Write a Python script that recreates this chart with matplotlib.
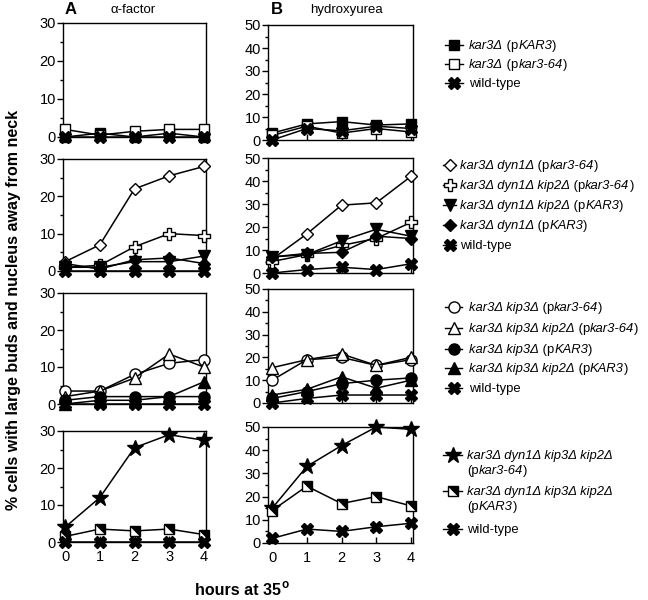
import matplotlib
matplotlib.use('Agg')
import matplotlib.pyplot as plt
from matplotlib.path import Path
from matplotlib.ticker import MultipleLocator

plt.rcParams['font.family'] = ['Liberation Sans', 'DejaVu Sans']

W, H = 648, 600
fig = plt.figure(figsize=(6.48, 6.0), dpi=100)

hours = [0, 1, 2, 3, 4]

# ---------------- data ----------------
# row 1
r1_pKAR3_alpha = [0, 1, 0, 1, 0]
r1_pkar364_alpha = [2, 0.5, 1.5, 2, 2]
r1_wt_alpha = [0, 0, 0, 0, 0]
r1_pKAR3_hu = [3, 7, 8, 6.5, 7]
r1_pkar364_hu = [2, 6, 3, 5, 3.5]
r1_wt_hu = [0, 5, 4, 6, 5]
# row 2
r2_dyn_pkar364_alpha = [2.5, 7, 22, 25.5, 28]
r2_dynkip2_pkar364_alpha = [1, 1.5, 6.5, 10, 9.5]
r2_dynkip2_pKAR3_alpha = [1, 1, 2.5, 2.5, 4]
r2_dyn_pKAR3_alpha = [2, 0.5, 3, 3.5, 2]
r2_wt_alpha = [0, 0, 0, 0, 0]
r2_dyn_pkar364_hu = [6, 17, 29.5, 30.5, 42]
r2_dynkip2_pkar364_hu = [5, 8, 12, 15, 22]
r2_dynkip2_pKAR3_hu = [7, 8, 14, 19, 16]
r2_dyn_pKAR3_hu = [7, 8.5, 9, 16, 15]
r2_wt_hu = [0, 1.5, 2.5, 1.5, 4]
# row 3
r3_kip3_pkar364_alpha = [3.5, 3.5, 8, 11, 12]
r3_kip3kip2_pkar364_alpha = [2, 3.5, 7, 13.5, 10]
r3_kip3_pKAR3_alpha = [1, 2, 2, 2, 2]
r3_kip3kip2_pKAR3_alpha = [0, 1, 1, 2, 6]
r3_wt_alpha = [0, 0, 0, 0, 0]
r3_kip3_pkar364_hu = [10, 19, 20, 16.5, 19]
r3_kip3kip2_pkar364_hu = [15.5, 19, 21.5, 16.5, 20]
r3_kip3_pKAR3_hu = [2, 5, 8.5, 10, 11]
r3_kip3kip2_pKAR3_hu = [3.5, 6, 11.5, 6.5, 10]
r3_wt_hu = [0, 2, 3.5, 3.5, 3.5]
# row 4
r4_quad_pkar364_alpha = [4, 12, 25.5, 29, 27.5]
r4_quad_pKAR3_alpha = [1.5, 3.5, 3, 3.5, 2]
r4_wt_alpha = [0, 0, 0, 0, 0]
r4_quad_pkar364_hu = [15, 33, 42, 50, 49]
r4_quad_pKAR3_hu = [14, 24.5, 17, 20, 16]
r4_wt_hu = [2, 6, 5, 7, 8.5]

I, N = 'italic', 'normal'
lab_wt = [('wild-type', N)]

rows = [
    [  # (alpha, hu, style, label segments)
        (r1_pKAR3_alpha, r1_pKAR3_hu, 'sq_f', [('kar3Δ', I), (' (p', N), ('KAR3', I), (')', N)]),
        (r1_pkar364_alpha, r1_pkar364_hu, 'sq_o', [('kar3Δ', I), (' (p', N), ('kar3-64', I), (')', N)]),
        (r1_wt_alpha, r1_wt_hu, 'wt', lab_wt),
    ],
    [
        (r2_dyn_pkar364_alpha, r2_dyn_pkar364_hu, 'dia_o', [('kar3Δ dyn1Δ', I), (' (p', N), ('kar3-64', I), (')', N)]),
        (r2_dynkip2_pkar364_alpha, r2_dynkip2_pkar364_hu, 'plus_o', [('kar3Δ dyn1Δ kip2Δ', I), (' (p', N), ('kar3-64', I), (')', N)]),
        (r2_dynkip2_pKAR3_alpha, r2_dynkip2_pKAR3_hu, 'tri_v', [('kar3Δ dyn1Δ kip2Δ', I), (' (p', N), ('KAR3', I), (')', N)]),
        (r2_dyn_pKAR3_alpha, r2_dyn_pKAR3_hu, 'dia_f', [('kar3Δ dyn1Δ', I), (' (p', N), ('KAR3', I), (')', N)]),
        (r2_wt_alpha, r2_wt_hu, 'wt', lab_wt),
    ],
    [
        (r3_kip3_pkar364_alpha, r3_kip3_pkar364_hu, 'circ_o', [('kar3Δ kip3Δ', I), (' (p', N), ('kar3-64', I), (')', N)]),
        (r3_kip3kip2_pkar364_alpha, r3_kip3kip2_pkar364_hu, 'tri_o', [('kar3Δ kip3Δ kip2Δ', I), (' (p', N), ('kar3-64', I), (')', N)]),
        (r3_kip3_pKAR3_alpha, r3_kip3_pKAR3_hu, 'circ_f', [('kar3Δ kip3Δ', I), (' (p', N), ('KAR3', I), (')', N)]),
        (r3_kip3kip2_pKAR3_alpha, r3_kip3kip2_pKAR3_hu, 'tri_f', [('kar3Δ kip3Δ kip2Δ', I), (' (p', N), ('KAR3', I), (')', N)]),
        (r3_wt_alpha, r3_wt_hu, 'wt', lab_wt),
    ],
    [
        (r4_quad_pkar364_alpha, r4_quad_pkar364_hu, 'star', [('kar3Δ dyn1Δ kip3Δ kip2Δ', I), ('\n', N), ('(p', N), ('kar3-64', I), (')', N)]),
        (r4_quad_pKAR3_alpha, r4_quad_pKAR3_hu, 'half', [('kar3Δ dyn1Δ kip3Δ kip2Δ', I), ('\n', N), ('(p', N), ('KAR3', I), (')', N)]),
        (r4_wt_alpha, r4_wt_hu, 'wt', lab_wt),
    ],
]

STY = {
    'sq_f': dict(marker='s', mfc='k', ms=7),
    'sq_o': dict(marker='s', mfc='w', ms=7),
    'wt': dict(marker='X', mfc='k', ms=9),
    'dia_o': dict(marker='D', mfc='w', ms=6),
    'plus_o': dict(marker='P', mfc='w', ms=9),
    'tri_v': dict(marker='v', mfc='k', ms=8),
    'dia_f': dict(marker='D', mfc='k', ms=6),
    'circ_o': dict(marker='o', mfc='w', ms=8),
    'tri_o': dict(marker='^', mfc='w', ms=8),
    'circ_f': dict(marker='o', mfc='k', ms=8),
    'tri_f': dict(marker='^', mfc='k', ms=8),
    'star': dict(marker='*', mfc='k', ms=12),
    'half': dict(marker='s', mfc='w', ms=7.5),
}
TRI_UR = Path([(-1, 1), (1, 1), (1, -1), (-1, 1)], [Path.MOVETO, Path.LINETO, Path.LINETO, Path.CLOSEPOLY])


def draw_series(ax, x, y, key, clip=False, lw=1.1):
    st = STY[key]
    ax.plot(x, y, color='k', lw=lw, marker=st['marker'], ms=st['ms'], mfc=st['mfc'],
            mec='k', mew=1.0, clip_on=clip, zorder=3)
    if key == 'half':
        ax.plot(x, y, ls='none', marker=TRI_UR, ms=st['ms'], mfc='k', mec='k', mew=0.6,
                clip_on=clip, zorder=4)


# axes pixel geometry
colA = (63, 206)
colB = (268, 413)
rowsA = [(23, 137), (159, 271), (293, 404), (431, 542)]
rowsB = [(25, 140), (158, 273), (289, 403), (427, 543)]


def px_axes(xr, yr):
    x0, x1 = xr
    t, b = yr
    return fig.add_axes([x0 / W, 1 - b / H, (x1 - x0) / W, (b - t) / H])


for ri, series in enumerate(rows):
    for ci, (xr, yr, ymax, xl) in enumerate([(colA, rowsA[ri], 30, (-0.06, 4.06)),
                                              (colB, rowsB[ri], 50, (-0.12, 4.06))]):
        ax = px_axes(xr, yr)
        for s in series:
            draw_series(ax, hours, s[ci], s[2])
        ax.set_xlim(*xl)
        ax.set_ylim(0, ymax)
        ax.yaxis.set_major_locator(MultipleLocator(10))
        ax.yaxis.set_minor_locator(MultipleLocator(5))
        ax.set_xticks(hours)
        ax.tick_params(axis='y', which='major', direction='out', length=4, width=1,
                       labelsize=10.5, pad=1)
        ax.tick_params(axis='y', which='minor', direction='out', length=2.5, width=1)
        ax.tick_params(axis='x', which='major', direction='in', length=4, width=1,
                       labelsize=10.5, labelbottom=(ri == 3), pad=6)
        for sp in ax.spines.values():
            sp.set_linewidth(1.0)

# overlay in pixel coordinates for legends and labels
ov = fig.add_axes([0, 0, 1, 1])
ov.set_xlim(0, W)
ov.set_ylim(H, 0)
ov.axis('off')
ov.patch.set_alpha(0)

renderer = fig.canvas.get_renderer()


def text_width(s, size, style, weight='normal'):
    t1 = ov.text(0, 0, '|' + s + '|', fontsize=size, style=style, weight=weight)
    t2 = ov.text(0, 0, '||', fontsize=size, style=style, weight=weight)
    w = t1.get_window_extent(renderer).width - t2.get_window_extent(renderer).width
    t1.remove()
    t2.remove()
    return w


def draw_segments(x0, y, segs, size=10, weight='normal', line_gap=15):
    x = x0
    for s, style in segs:
        if s == '\n':
            x = x0
            y += line_gap
            continue
        ov.text(x, y, s, fontsize=size, style=style, weight=weight, va='baseline', ha='left')
        x += text_width(s, size, style, weight)
    return x


# legend groups: (handle x0, x1, text x, y centers)
leg_geo = [
    (445, 463, 469, [45, 64, 83]),
    (443, 456, 460, [165, 185, 205, 225, 245]),
    (445, 462, 469, [307, 328, 349, 368, 388]),
    (443, 462, 467, [455, 491, 529]),
]
for series, (hx0, hx1, tx, ys) in zip(rows, leg_geo):
    for s, yc in zip(series, ys):
        ov.plot([hx0, hx1], [yc, yc], color='k', lw=1.0, clip_on=False)
        draw_series(ov, [(hx0 + hx1) / 2], [yc], s[2])
        draw_segments(tx, yc + 4, s[3], size=9.4)

# panel headers
ov.text(71, 10, 'A', fontsize=12, weight='bold', ha='center', va='center')
ov.text(133, 10, 'α-factor', fontsize=9.5, ha='center', va='center')
ov.text(277, 10, 'B', fontsize=12, weight='bold', ha='center', va='center')
ov.text(346, 10, 'hydroxyurea', fontsize=9.5, ha='center', va='center')

# axis labels
ov.text(14, 310, '% cells with large buds and nucleus away from neck', fontsize=11.5,
        weight='bold', rotation=90, ha='center', va='center')
main = 'hours at 35'
wm = text_width(main, 11.5, 'normal', 'bold')
ws = text_width('o', 8.5, 'normal', 'bold')
xs = 242 - (wm + ws) / 2
ov.text(xs, 595, main, fontsize=11.5, weight='bold', ha='left', va='baseline')
ov.text(xs + wm + 0.5, 588, 'o', fontsize=8.5, weight='bold', ha='left', va='baseline')

fig.savefig('out.png', dpi=100)
